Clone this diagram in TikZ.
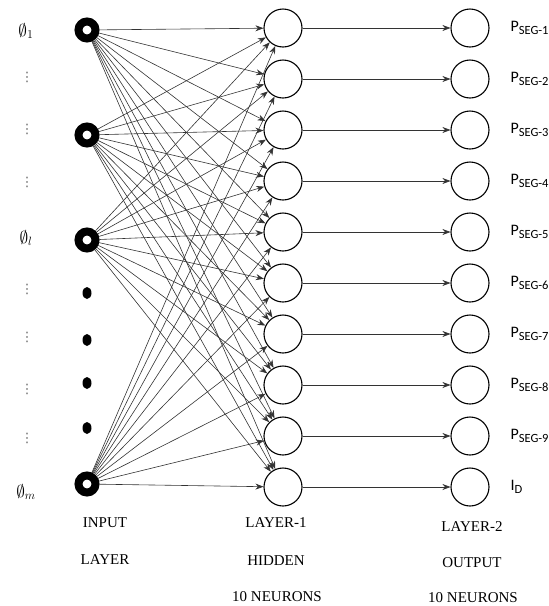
\documentclass[tikz,border=0pt]{standalone}
\usepackage{fontspec}
\setmainfont{Liberation Serif}
\newfontfamily\calibri{Carlito}
\newfontfamily\dejavu{DejaVu Sans}
\usetikzlibrary{arrows.meta,shapes.geometric}

\tikzset{
  inring/.style={circle,draw,line width=8pt,minimum size=17pt,inner sep=0pt},
  indot/.style={ellipse,fill,minimum width=9pt,minimum height=12pt,inner sep=0pt},
  neuron/.style={circle,draw,line width=1.1pt,minimum size=38pt,inner sep=0pt},
  link/.style={-{Stealth[length=8pt,width=6pt]},black!80,line width=0.6pt},
  lbl/.style={font=\fontsize{15}{17}\selectfont},
  outlbl/.style={anchor=west,font=\calibri\fontsize{16}{18}\selectfont},
  vdot/.style={inner sep=0pt,text=black!60,font=\dejavu\fontsize{13}{13}\selectfont},
}

\newcommand{\pseg}[1]{P\raisebox{-2.5pt}{\fontsize{12.5}{12.5}\selectfont SEG-#1}}

\begin{document}
\begin{tikzpicture}[x=1pt,y=-1pt]
  \useasboundingbox (0,0) rectangle (549,606);
  % hidden and output neurons
  \foreach \k in {1,...,10} {
    \node[neuron] (h\k) at (283,{28+51*(\k-1)}) {};
    \node[neuron] (o\k) at (470,{28+51*(\k-1)}) {};
  }
  % inputs
  \node[inring] (i1) at (87,30) {};
  \node[inring] (i2) at (87,135) {};
  \node[inring] (i3) at (87,240) {};
  \node[inring] (i4) at (87,484) {};
  \node[indot] (d1) at (87,293) {};
  \node[indot] (d2) at (87,340) {};
  \node[indot] (d3) at (87,383) {};
  \node[indot] (d4) at (87,428) {};
  % connections
  \foreach \a in {1,...,4}
    \foreach \b in {1,...,10}
      \draw[link] (i\a) -- (h\b);
  \foreach \b in {1,...,10}
    \draw[link] (h\b) -- (o\b);
  % input labels
  \node[lbl,font=\fontsize{17}{19}\selectfont] (phi1) at (26,31) {$\emptyset_1$};
  \node[lbl,font=\fontsize{17}{19}\selectfont] (phil) at (26,238) {$\emptyset_l$};
  \node[lbl,font=\fontsize{17}{19}\selectfont] (phim) at (26,492) {$\emptyset_m$};
  \foreach \y [count=\n] in {77,129,182,289,337,389,438}
    \node[vdot] (v\n) at (27,\y) {⋮};
  % output labels
  \foreach \k in {1,...,9}
    \node[outlbl] (p\k) at (507,{28+51*(\k-1)}) {\pseg{\k}};
  \node[outlbl] (pid) at (507,487) {I\raisebox{-2.5pt}{\fontsize{12.5}{12.5}\selectfont D}};
  % layer captions
  \node[lbl] (c1) at (105,523) {INPUT};
  \node[lbl] (c2) at (105,560) {LAYER};
  \node[lbl] (c3) at (276,523) {LAYER-1};
  \node[lbl] (c4) at (276,561) {HIDDEN};
  \node[lbl] (c5) at (277,597) {10 NEURONS};
  \node[lbl] (c6) at (472,527) {LAYER-2};
  \node[lbl] (c7) at (472,563) {OUTPUT};
  \node[lbl] (c8) at (473,598) {10 NEURONS};
\end{tikzpicture}
\end{document}
